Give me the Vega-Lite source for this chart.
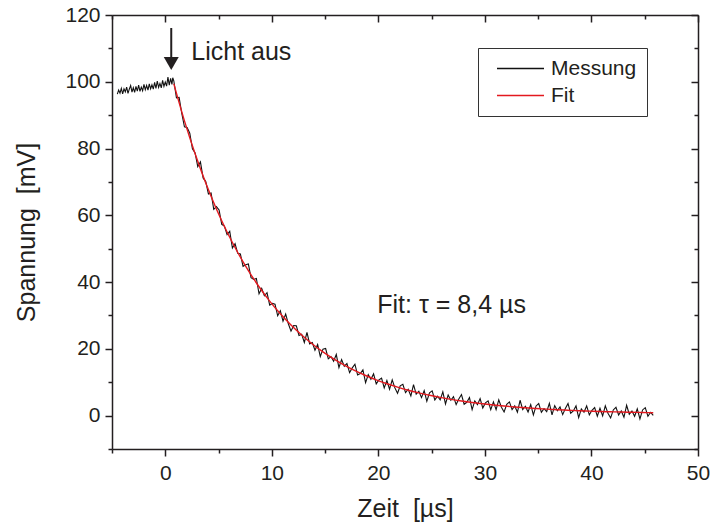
{
  "$schema": "https://vega.github.io/schema/vega-lite/v6.json",
  "width": 586,
  "height": 434,
  "autosize": {"type": "none"},
  "padding": {"left": 112, "top": 15, "right": 14, "bottom": 78},
  "background": "white",
  "config": {
    "view": {"stroke": null},
    "font": "Liberation Sans",
    "axis": {
      "grid": false,
      "domainColor": "#231f20",
      "tickColor": "#231f20",
      "labelColor": "#231f20",
      "titleColor": "#231f20",
      "labelFont": "Liberation Sans",
      "titleFont": "Liberation Sans",
      "labelFontSize": 21,
      "titleFontSize": 25,
      "titleFontWeight": "normal",
      "domainWidth": 1.5,
      "tickWidth": 1.5,
      "labelFlush": false,
      "labelOverlap": false
    }
  },
  "datasets": {
    "mess": [
      {"t": -4.5, "v": 96.3}, {"t": -4.375, "v": 97.5}, {"t": -4.25, "v": 96.6}, {"t": -4.125, "v": 98.0},
      {"t": -4.0, "v": 96.4}, {"t": -3.875, "v": 97.9}, {"t": -3.75, "v": 97.0}, {"t": -3.625, "v": 98.4},
      {"t": -3.5, "v": 96.5}, {"t": -3.375, "v": 97.8}, {"t": -3.25, "v": 98.9}, {"t": -3.125, "v": 96.9},
      {"t": -3.0, "v": 98.2}, {"t": -2.875, "v": 96.8}, {"t": -2.75, "v": 98.6}, {"t": -2.625, "v": 97.2},
      {"t": -2.5, "v": 99.0}, {"t": -2.375, "v": 97.1}, {"t": -2.25, "v": 98.4}, {"t": -2.125, "v": 97.3},
      {"t": -2.0, "v": 99.2}, {"t": -1.875, "v": 97.6}, {"t": -1.75, "v": 98.9}, {"t": -1.625, "v": 97.5},
      {"t": -1.5, "v": 99.4}, {"t": -1.375, "v": 97.9}, {"t": -1.25, "v": 99.1}, {"t": -1.125, "v": 97.8},
      {"t": -1.0, "v": 99.8}, {"t": -0.875, "v": 98.0}, {"t": -0.75, "v": 100.2}, {"t": -0.625, "v": 98.3},
      {"t": -0.5, "v": 99.5}, {"t": -0.375, "v": 98.2}, {"t": -0.25, "v": 100.4}, {"t": -0.125, "v": 98.6},
      {"t": 0.0, "v": 99.9}, {"t": 0.125, "v": 98.7}, {"t": 0.25, "v": 101.4}, {"t": 0.375, "v": 99.0},
      {"t": 0.5, "v": 101.0}, {"t": 0.625, "v": 99.2}, {"t": 0.7, "v": 101.2},
      {"t": 0.8, "v": 100.3}, {"t": 1.05, "v": 95.2}, {"t": 1.3, "v": 95.3}, {"t": 1.55, "v": 90.5},
      {"t": 1.8, "v": 86.5}, {"t": 2.05, "v": 86.3}, {"t": 2.3, "v": 84.6}, {"t": 2.55, "v": 79.9},
      {"t": 2.8, "v": 78.7}, {"t": 3.05, "v": 74.6}, {"t": 3.3, "v": 76.0}, {"t": 3.55, "v": 71.2},
      {"t": 3.8, "v": 70.1}, {"t": 4.05, "v": 66.4}, {"t": 4.3, "v": 66.7}, {"t": 4.55, "v": 61.8},
      {"t": 4.8, "v": 62.6}, {"t": 5.05, "v": 61.6}, {"t": 5.3, "v": 57.3}, {"t": 5.55, "v": 56.8},
      {"t": 5.8, "v": 54.2}, {"t": 6.05, "v": 55.2}, {"t": 6.3, "v": 50.2}, {"t": 6.55, "v": 51.5},
      {"t": 6.8, "v": 48.6}, {"t": 7.05, "v": 48.4}, {"t": 7.3, "v": 44.7}, {"t": 7.55, "v": 45.2},
      {"t": 7.8, "v": 45.4}, {"t": 8.05, "v": 41.3}, {"t": 8.3, "v": 40.8}, {"t": 8.55, "v": 41.1},
      {"t": 8.8, "v": 36.5}, {"t": 9.05, "v": 38.1}, {"t": 9.3, "v": 35.9}, {"t": 9.55, "v": 36.8},
      {"t": 9.8, "v": 33.1}, {"t": 10.05, "v": 33.6}, {"t": 10.3, "v": 33.4}, {"t": 10.55, "v": 29.9},
      {"t": 10.8, "v": 31.4}, {"t": 11.05, "v": 28.3}, {"t": 11.3, "v": 30.4}, {"t": 11.55, "v": 27.5},
      {"t": 11.8, "v": 25.3}, {"t": 12.05, "v": 27.0}, {"t": 12.3, "v": 26.9}, {"t": 12.55, "v": 24.0},
      {"t": 12.8, "v": 24.4}, {"t": 13.05, "v": 21.9}, {"t": 13.3, "v": 24.9}, {"t": 13.55, "v": 21.5},
      {"t": 13.8, "v": 21.9}, {"t": 14.05, "v": 19.6}, {"t": 14.3, "v": 21.3}, {"t": 14.55, "v": 17.7},
      {"t": 14.8, "v": 19.9}, {"t": 15.05, "v": 20.1}, {"t": 15.3, "v": 17.0}, {"t": 15.55, "v": 17.7},
      {"t": 15.8, "v": 16.3}, {"t": 16.05, "v": 18.3}, {"t": 16.3, "v": 14.4}, {"t": 16.55, "v": 16.8},
      {"t": 16.8, "v": 14.8}, {"t": 17.05, "v": 15.6}, {"t": 17.3, "v": 12.9}, {"t": 17.55, "v": 14.3},
      {"t": 17.8, "v": 15.4}, {"t": 18.05, "v": 12.2}, {"t": 18.3, "v": 12.6}, {"t": 18.55, "v": 13.7},
      {"t": 18.8, "v": 9.9}, {"t": 19.05, "v": 12.3}, {"t": 19.3, "v": 10.9}, {"t": 19.55, "v": 12.5},
      {"t": 19.8, "v": 9.5}, {"t": 20.05, "v": 10.7}, {"t": 20.3, "v": 11.2}, {"t": 20.55, "v": 8.3},
      {"t": 20.8, "v": 10.5}, {"t": 21.05, "v": 7.9}, {"t": 21.3, "v": 10.7}, {"t": 21.55, "v": 8.3},
      {"t": 21.8, "v": 6.7}, {"t": 22.05, "v": 8.9}, {"t": 22.3, "v": 9.4}, {"t": 22.55, "v": 6.9},
      {"t": 22.8, "v": 7.9}, {"t": 23.05, "v": 5.9}, {"t": 23.3, "v": 9.3}, {"t": 23.55, "v": 6.4},
      {"t": 23.8, "v": 7.3}, {"t": 24.05, "v": 5.4}, {"t": 24.3, "v": 7.5}, {"t": 24.55, "v": 4.3},
      {"t": 24.8, "v": 6.8}, {"t": 25.05, "v": 7.4}, {"t": 25.3, "v": 4.7}, {"t": 25.55, "v": 5.8},
      {"t": 25.8, "v": 4.7}, {"t": 26.05, "v": 7.1}, {"t": 26.3, "v": 3.5}, {"t": 26.55, "v": 6.2},
      {"t": 26.8, "v": 4.6}, {"t": 27.05, "v": 5.7}, {"t": 27.3, "v": 3.3}, {"t": 27.55, "v": 5.0},
      {"t": 27.8, "v": 6.3}, {"t": 28.05, "v": 3.4}, {"t": 28.3, "v": 4.0}, {"t": 28.55, "v": 5.4},
      {"t": 28.8, "v": 1.8}, {"t": 29.05, "v": 4.4}, {"t": 29.3, "v": 3.3}, {"t": 29.55, "v": 5.1},
      {"t": 29.8, "v": 2.3}, {"t": 30.05, "v": 3.8}, {"t": 30.3, "v": 4.4}, {"t": 30.55, "v": 1.8},
      {"t": 30.8, "v": 4.1}, {"t": 31.05, "v": 1.8}, {"t": 31.3, "v": 4.7}, {"t": 31.55, "v": 2.5},
      {"t": 31.8, "v": 1.1}, {"t": 32.05, "v": 3.4}, {"t": 32.3, "v": 4.1}, {"t": 32.55, "v": 1.8},
      {"t": 32.8, "v": 2.9}, {"t": 33.05, "v": 1.0}, {"t": 33.3, "v": 4.6}, {"t": 33.55, "v": 1.8},
      {"t": 33.8, "v": 2.8}, {"t": 34.05, "v": 1.1}, {"t": 34.3, "v": 3.3}, {"t": 34.55, "v": 0.2},
      {"t": 34.8, "v": 2.9}, {"t": 35.05, "v": 3.6}, {"t": 35.3, "v": 1.0}, {"t": 35.55, "v": 2.1},
      {"t": 35.8, "v": 1.2}, {"t": 36.05, "v": 3.7}, {"t": 36.3, "v": 0.2}, {"t": 36.55, "v": 3.0},
      {"t": 36.8, "v": 1.5}, {"t": 37.05, "v": 2.6}, {"t": 37.3, "v": 0.3}, {"t": 37.55, "v": 2.1},
      {"t": 37.8, "v": 3.6}, {"t": 38.05, "v": 0.7}, {"t": 38.3, "v": 1.4}, {"t": 38.55, "v": 2.9},
      {"t": 38.8, "v": -0.6}, {"t": 39.05, "v": 2.0}, {"t": 39.3, "v": 1.0}, {"t": 39.55, "v": 2.9},
      {"t": 39.8, "v": 0.2}, {"t": 40.05, "v": 1.6}, {"t": 40.3, "v": 2.4}, {"t": 40.55, "v": -0.2},
      {"t": 40.8, "v": 2.2}, {"t": 41.05, "v": -0.1}, {"t": 41.3, "v": 2.9}, {"t": 41.55, "v": 0.7},
      {"t": 41.8, "v": -0.7}, {"t": 42.05, "v": 1.7}, {"t": 42.3, "v": 2.5}, {"t": 42.55, "v": 0.2},
      {"t": 42.8, "v": 1.4}, {"t": 43.05, "v": -0.5}, {"t": 43.3, "v": 3.1}, {"t": 43.55, "v": 0.4},
      {"t": 43.8, "v": 1.4}, {"t": 44.05, "v": -0.2}, {"t": 44.3, "v": 2.0}, {"t": 44.55, "v": -1.0},
      {"t": 44.8, "v": 1.7}, {"t": 45.05, "v": 2.4}, {"t": 45.3, "v": -0.2}, {"t": 45.55, "v": 1.0},
      {"t": 45.8, "v": 0.1}
    ],
    "fit": [
      {"t": 0.8, "v": 99.4}, {"t": 1.8, "v": 88.29}, {"t": 2.8, "v": 78.42}, {"t": 3.8, "v": 69.67},
      {"t": 4.8, "v": 61.89}, {"t": 5.8, "v": 54.99}, {"t": 6.8, "v": 48.87}, {"t": 7.8, "v": 43.43},
      {"t": 8.8, "v": 38.6}, {"t": 9.8, "v": 34.31}, {"t": 10.8, "v": 30.5}, {"t": 11.8, "v": 27.13},
      {"t": 12.8, "v": 24.13}, {"t": 13.8, "v": 21.46}, {"t": 14.8, "v": 19.1}, {"t": 15.8, "v": 17.0},
      {"t": 16.8, "v": 15.14}, {"t": 17.8, "v": 13.48}, {"t": 18.8, "v": 12.02}, {"t": 19.8, "v": 10.71},
      {"t": 20.8, "v": 9.55}, {"t": 21.8, "v": 8.53}, {"t": 22.8, "v": 7.61}, {"t": 23.8, "v": 6.81},
      {"t": 24.8, "v": 6.09}, {"t": 25.8, "v": 5.45}, {"t": 26.8, "v": 4.88}, {"t": 27.8, "v": 4.38},
      {"t": 28.8, "v": 3.93}, {"t": 29.8, "v": 3.54}, {"t": 30.8, "v": 3.18}, {"t": 31.8, "v": 2.87},
      {"t": 32.8, "v": 2.59}, {"t": 33.8, "v": 2.35}, {"t": 34.8, "v": 2.13}, {"t": 35.8, "v": 1.94},
      {"t": 36.8, "v": 1.76}, {"t": 37.8, "v": 1.61}, {"t": 38.8, "v": 1.47}, {"t": 39.8, "v": 1.35},
      {"t": 40.8, "v": 1.25}, {"t": 41.8, "v": 1.15}, {"t": 42.8, "v": 1.07}, {"t": 43.8, "v": 0.99},
      {"t": 44.8, "v": 0.93}, {"t": 45.8, "v": 0.87}
    ]
  },
  "resolve": {"axis": {"x": "independent", "y": "independent"}},
  "layer": [
    {
      "data": {"name": "mess"},
      "mark": {"type": "line", "strokeWidth": 1.1, "interpolate": "linear"},
      "encoding": {
        "x": {"field": "t", "type": "quantitative",
              "scale": {"domain": [-5, 50], "nice": false, "zero": false},
              "axis": {"orient": "bottom", "values": [0, 10, 20, 30, 40, 50], "tickSize": 7, "labelPadding": 6,
                       "title": "Zeit\u00a0 [µs]", "titleX": 293, "titleY": 67.5, "titleBaseline": "alphabetic", "titleAlign": "center"}},
        "y": {"field": "v", "type": "quantitative",
              "scale": {"domain": [-10, 120], "nice": false, "zero": false},
              "axis": {"orient": "left", "values": [0, 20, 40, 60, 80, 100, 120], "tickSize": 7, "labelPadding": 5,
                       "title": "Spannung\u00a0 [mV]", "titleX": -78, "titleY": 217, "titleAngle": 270,
                       "titleBaseline": "alphabetic", "titleAlign": "center"}},
        "color": {"datum": "Messung", "type": "nominal",
                  "scale": {"domain": ["Messung", "Fit"], "range": ["#111111", "#e3191f"]},
                  "legend": {"title": null, "orient": "none", "legendX": 366, "legendY": 33,
                             "symbolType": "stroke", "symbolSize": 2209, "symbolStrokeWidth": 1.5,
                             "symbolOffset": 8, "labelOffset": 6, "rowPadding": 5, "padding": 10,
                             "clipHeight": 21,
                             "labelFontSize": 21, "labelFont": "Liberation Sans", "labelColor": "#231f20",
                             "strokeColor": "#333333", "fillColor": "white"}}
      }
    },
    {
      "data": {"name": "fit"},
      "mark": {"type": "line", "strokeWidth": 1.4, "interpolate": "monotone"},
      "encoding": {
        "x": {"field": "t", "type": "quantitative",
              "axis": {"orient": "top", "values": [0, 10, 20, 30, 40, 50], "tickSize": -7, "labels": false, "title": null}},
        "y": {"field": "v", "type": "quantitative",
              "axis": {"orient": "right", "values": [0, 20, 40, 60, 80, 100, 120], "tickSize": -7, "labels": false, "title": null}},
        "color": {"datum": "Fit", "type": "nominal"}
      }
    },
    {
      "data": {"values": [{"t": 2.44, "v": 106.6, "label": "Licht aus"}]},
      "mark": {"type": "text", "align": "left", "baseline": "alphabetic", "fontSize": 25, "font": "Liberation Sans", "color": "#231f20"},
      "encoding": {
        "x": {"field": "t", "type": "quantitative",
              "axis": {"orient": "bottom", "values": [-5, 5, 15, 25, 35, 45], "tickSize": 4, "labels": false, "domain": false, "title": null}},
        "y": {"field": "v", "type": "quantitative",
              "axis": {"orient": "left", "values": [-10, 10, 30, 50, 70, 90, 110], "tickSize": 4, "labels": false, "domain": false, "title": null}},
        "text": {"field": "label"}
      }
    },
    {
      "data": {"values": [{"t": 19.9, "v": 30.8, "label": "Fit: τ = 8,4 µs"}]},
      "mark": {"type": "text", "align": "left", "baseline": "alphabetic", "fontSize": 25, "font": "Liberation Sans", "color": "#231f20"},
      "encoding": {
        "x": {"field": "t", "type": "quantitative",
              "axis": {"orient": "top", "values": [-5, 5, 15, 25, 35, 45], "tickSize": -4, "labels": false, "domain": false, "title": null}},
        "y": {"field": "v", "type": "quantitative",
              "axis": {"orient": "right", "values": [-10, 10, 30, 50, 70, 90, 110], "tickSize": -4, "labels": false, "domain": false, "title": null}},
        "text": {"field": "label"}
      }
    },
    {
      "data": {"values": [{"t": 0.56, "v": 116.1, "v2": 107.0}]},
      "mark": {"type": "rule", "strokeWidth": 2, "color": "#231f20"},
      "encoding": {
        "x": {"field": "t", "type": "quantitative", "axis": null},
        "y": {"field": "v", "type": "quantitative", "axis": null},
        "y2": {"field": "v2"}
      }
    },
    {
      "data": {"values": [{"t": 0.56, "v": 105.5}]},
      "mark": {"type": "point", "shape": "triangle-down", "size": 225, "filled": true, "opacity": 1, "color": "#231f20", "strokeWidth": 0},
      "encoding": {
        "x": {"field": "t", "type": "quantitative", "axis": null},
        "y": {"field": "v", "type": "quantitative", "axis": null}
      }
    }
  ]
}
